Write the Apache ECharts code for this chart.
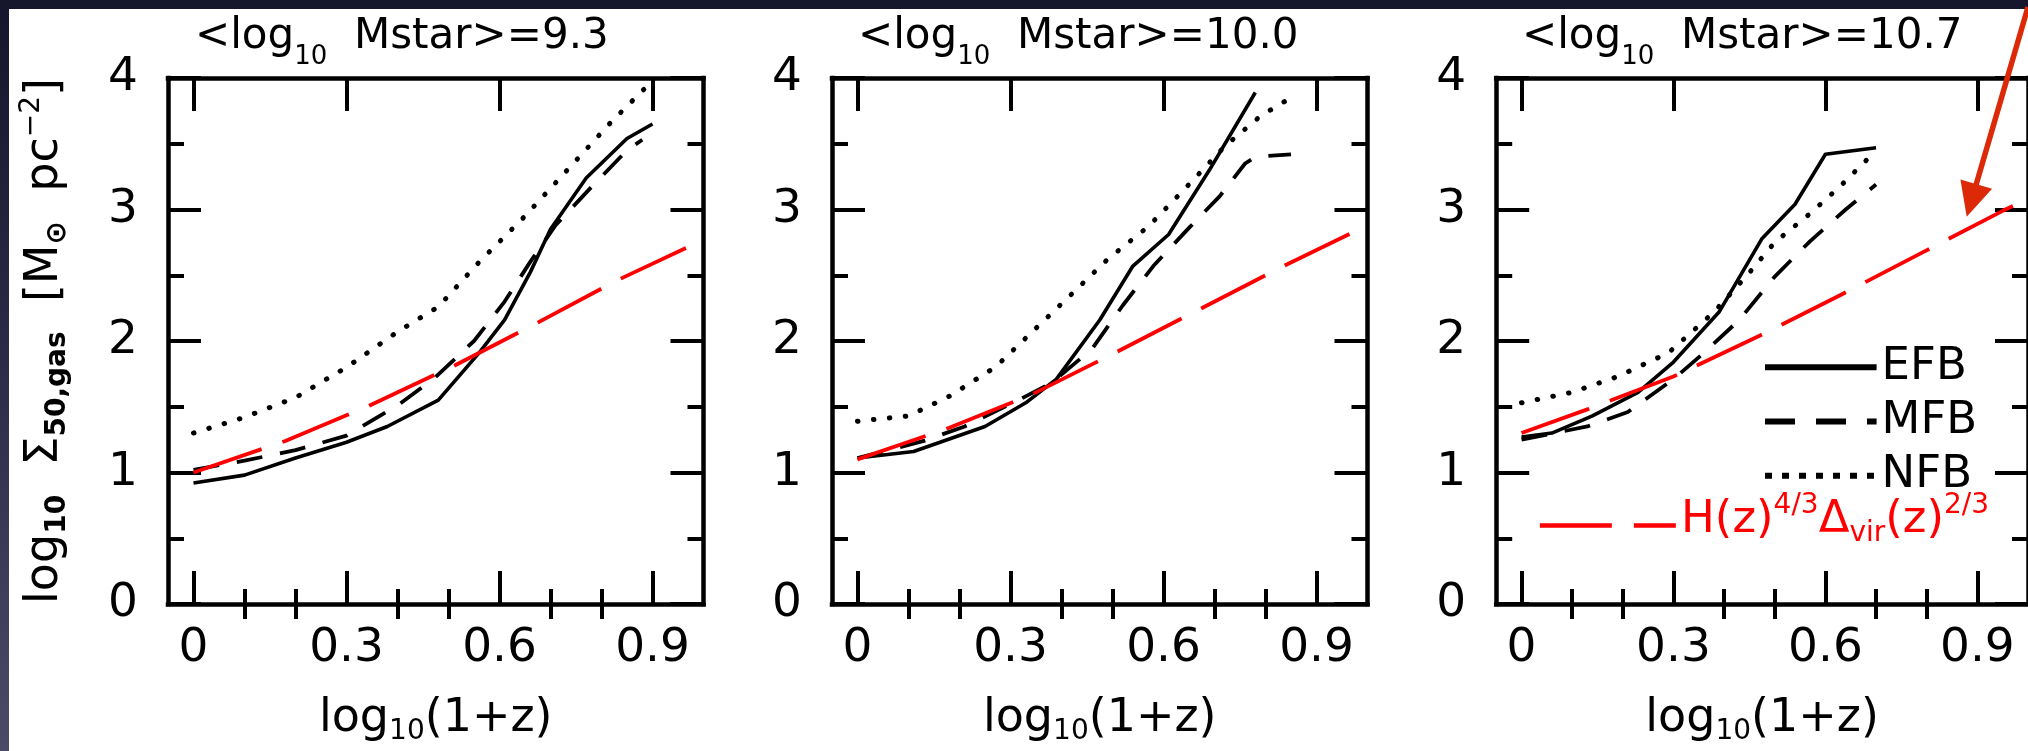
<!DOCTYPE html>
<html>
<head>
<meta charset="utf-8">
<script src="https://cdn.jsdelivr.net/npm/echarts@6/dist/echarts.min.js"></script>
<style>
html, body { margin:0; padding:0; width:2028px; height:751px; overflow:hidden;
  background: linear-gradient(to bottom, #15152b 0%, #2a2a46 45%, #4b4b67 100%); }
#paper { position:absolute; left:9px; top:9px; right:0; bottom:0; background:#ffffff; }
#chart { position:absolute; left:0; top:0; width:2028px; height:751px; }
</style>
</head>
<body>
<div id="paper"></div>
<div id="chart"></div>
<script>
// ---------------- data ----------------
const panelMass = ['9.3', '10.0', '10.7'];
const xMajorTicks = [0, 0.3, 0.6, 0.9];
const xMinorTicks = [0.1, 0.2, 0.4, 0.5, 0.7, 0.8];
const legendNames = ['EFB', 'MFB', 'NFB'];

// panel 1: <log10 Mstar> = 9.3
const efb93 = [[0,0.92],[0.1,0.98],[0.2,1.11],[0.3,1.23],[0.38,1.35],[0.48,1.55],[0.56,1.91],[0.61,2.16],[0.66,2.52],[0.70,2.85],[0.77,3.24],[0.85,3.54],[0.90,3.65]];
const mfb93 = [[0,1.02],[0.1,1.09],[0.2,1.17],[0.3,1.28],[0.4,1.51],[0.47,1.71],[0.55,2.0],[0.61,2.3],[0.66,2.6],[0.71,2.88],[0.78,3.17],[0.85,3.45],[0.88,3.53]];
const nfb93 = [[0,1.3],[0.1,1.42],[0.2,1.57],[0.3,1.8],[0.4,2.07],[0.48,2.26],[0.56,2.6],[0.65,2.95],[0.74,3.33],[0.82,3.67],[0.89,3.94]];
const hz93  = [[0,1.0],[0.18,1.24],[0.34,1.5],[0.51,1.81],[0.67,2.13],[0.83,2.46],[1.0,2.77]];

// panel 2: <log10 Mstar> = 10.0
const efb100 = [[0,1.11],[0.11,1.16],[0.25,1.35],[0.33,1.53],[0.39,1.71],[0.475,2.16],[0.54,2.57],[0.61,2.81],[0.69,3.3],[0.78,3.89]];
const mfb100 = [[0,1.11],[0.13,1.24],[0.21,1.35],[0.31,1.54],[0.38,1.68],[0.46,1.94],[0.52,2.27],[0.58,2.57],[0.65,2.86],[0.71,3.1],[0.76,3.35],[0.78,3.40],[0.85,3.42]];
const nfb100 = [[0,1.39],[0.1,1.43],[0.18,1.58],[0.27,1.8],[0.34,2.06],[0.41,2.32],[0.49,2.62],[0.57,2.87],[0.64,3.15],[0.72,3.48],[0.79,3.71],[0.85,3.85]];
const hz100  = [[0,1.1],[0.18,1.34],[0.34,1.59],[0.51,1.92],[0.67,2.24],[0.83,2.56],[1.0,2.88]];

// panel 3: <log10 Mstar> = 10.7
const efb107 = [[0,1.27],[0.06,1.3],[0.14,1.43],[0.23,1.61],[0.3,1.84],[0.39,2.22],[0.475,2.78],[0.54,3.04],[0.60,3.42],[0.70,3.47]];
const mfb107 = [[0,1.25],[0.13,1.35],[0.21,1.46],[0.3,1.71],[0.36,1.91],[0.43,2.16],[0.5,2.49],[0.57,2.76],[0.64,3.0],[0.70,3.19]];
const nfb107 = [[0,1.53],[0.1,1.61],[0.19,1.73],[0.29,1.91],[0.38,2.22],[0.45,2.52],[0.5,2.75],[0.57,2.97],[0.63,3.18],[0.69,3.41]];
const hz107  = [[0,1.3],[0.13,1.48],[0.3,1.73],[0.47,2.04],[0.63,2.35],[0.79,2.67],[0.95,2.99],[1.0,3.08]];

// annotation arrow in panel-3 data coordinates
const arrowTail = [1.0, 4.54];
const arrowTip  = [0.879, 2.945];

const panelData = [
  { efb: efb93,  mfb: mfb93,  nfb: nfb93,  hz: hz93 },
  { efb: efb100, mfb: mfb100, nfb: nfb100, hz: hz100 },
  { efb: efb107, mfb: mfb107, nfb: nfb107, hz: hz107 }
];

// ---------------- layout / style ----------------
const FONT = 'DejaVu Sans';
const K = '#000000';
const RED = '#ff0000';
const gridLefts = [168, 832, 1496.2];
const titleLefts = [195, 858, 1522];
const GRID_TOP = 78, GRID_W = 535.5, GRID_H = 527;

const lineAxis = { show: true, onZero: false, lineStyle: { color: K, width: 4.5, cap: 'square' } };
const tickLine = { color: K, width: 4 };

const chart = echarts.init(document.getElementById('chart'), null, { renderer: 'canvas' });

const grids = [], xAxes = [], yAxes = [], series = [], titles = [];

for (let g = 0; g < 3; g++) {
  grids.push({ left: gridLefts[g], top: GRID_TOP, width: GRID_W, height: GRID_H });

  const xb = { gridIndex: g, type: 'value', min: -0.05, max: 1.0, splitLine: { show: false } };
  // bottom major (main)
  xAxes.push(Object.assign({}, xb, {
    position: 'bottom', axisLine: lineAxis,
    axisTick: { show: true, inside: true, length: 33, customValues: xMajorTicks, lineStyle: tickLine },
    axisLabel: { show: true, customValues: xMajorTicks, margin: 21, color: K, fontSize: 47, lineHeight: 47,
                 fontFamily: FONT, formatter: v => String(v) },
    name: '{m|log}{s|10}{m|(1+z)}', nameLocation: 'middle', nameGap: 88,
    nameTextStyle: { color: K, fontFamily: FONT, fontSize: 46, rich: {
      m: { fontSize: 46, lineHeight: 54, color: K, fontFamily: FONT },
      s: { fontSize: 28, lineHeight: 28, verticalAlign: 'bottom', color: K, fontFamily: FONT } } }
  }));
  // bottom minor
  xAxes.push(Object.assign({}, xb, {
    position: 'bottom', axisLine: { show: false },
    axisTick: { show: true, inside: true, length: 15, customValues: xMinorTicks, lineStyle: tickLine },
    axisLabel: { show: false }
  }));
  // top major
  xAxes.push(Object.assign({}, xb, {
    position: 'top', axisLine: lineAxis,
    axisTick: { show: true, inside: true, length: 33, customValues: xMajorTicks, lineStyle: tickLine },
    axisLabel: { show: false }
  }));
  // top minor
  xAxes.push(Object.assign({}, xb, {
    position: 'top', axisLine: { show: false },
    axisTick: { show: true, inside: true, length: 15, customValues: xMinorTicks, lineStyle: tickLine },
    axisLabel: { show: false }
  }));

  const yb = { gridIndex: g, type: 'value', min: 0, max: 4, interval: 1,
    splitLine: { show: false }, minorSplitLine: { show: false },
    axisLine: lineAxis,
    axisTick: { show: true, inside: true, length: 33, lineStyle: tickLine },
    minorTick: { show: true, splitNumber: 2, length: 16, lineStyle: tickLine } };
  const yLeft = Object.assign({}, yb, {
    position: 'left',
    axisLabel: { show: true, margin: 30, color: K, fontSize: 47, fontFamily: FONT }
  });
  if (g === 0) {
    Object.assign(yLeft, {
      name: '{m|log}{s|10}{m|  Σ}{s|50,gas}{m|  [M}{s|⊙}{m|  pc}{p|−2}{m|]}',
      nameLocation: 'middle', nameGap: 96, nameRotate: 90,
      nameTextStyle: { color: K, fontFamily: FONT, fontSize: 46, rich: {
        m: { fontSize: 46, lineHeight: 54, color: K, fontFamily: FONT },
        s: { fontSize: 28, lineHeight: 28, verticalAlign: 'bottom', color: K, fontFamily: FONT, fontWeight: 'bold' },
        p: { fontSize: 28, lineHeight: 28, verticalAlign: 'top', color: K, fontFamily: FONT } } }
    });
  }
  yAxes.push(yLeft);
  yAxes.push(Object.assign({}, yb, { position: 'right', axisLabel: { show: false } }));

  titles.push({
    left: titleLefts[g], top: 4.5, padding: 0,
    text: '{m|<log}{s|10}{m|  Mstar>=' + panelMass[g] + '}',
    textStyle: { fontWeight: 'normal', fontSize: 42, fontFamily: FONT, color: K, rich: {
      m: { fontSize: 42, lineHeight: 66, color: K, fontFamily: FONT, fontWeight: 'normal' },
      s: { fontSize: 26, lineHeight: 26, verticalAlign: 'bottom', color: K, fontFamily: FONT, fontWeight: 'normal' } } }
  });

  const d = panelData[g];
  const common = { type: 'line', xAxisIndex: 4 * g, yAxisIndex: 2 * g, showSymbol: false, symbol: 'none',
                   silent: true, clip: true, emphasis: { disabled: true } };
  series.push(Object.assign({}, common, { name: 'EFB', data: d.efb, z: 3, itemStyle: { color: K },
    lineStyle: { color: K, width: 3.6, type: 'solid', join: 'round' } }));
  series.push(Object.assign({}, common, { name: 'MFB', data: d.mfb, z: 3, itemStyle: { color: K },
    lineStyle: { color: K, width: 3.8, type: [26, 18], join: 'round' } }));
  series.push(Object.assign({}, common, { name: 'NFB', data: d.nfb, z: 3, itemStyle: { color: K },
    lineStyle: { color: K, width: 5, type: [0.5, 15.5], cap: 'round', join: 'round' } }));
  series.push(Object.assign({}, common, { name: 'H', data: d.hz, z: 4, itemStyle: { color: RED },
    lineStyle: { color: RED, width: 3.8, type: [72, 22], join: 'round' } }));
}

// red legend label, drawn as rich text next to the legend line sample
titles.push({
  left: 1681, top: 492, padding: 0,
  text: '{m|H(z)}{p|4/3}{m|Δ}{s|vir}{m|(z)}{p|2/3}',
  textStyle: { fontWeight: 'normal', fontSize: 44, fontFamily: FONT, color: RED, rich: {
    m: { fontSize: 45, lineHeight: 56, color: RED, fontFamily: FONT, fontWeight: 'normal' },
    s: { fontSize: 28, lineHeight: 22, verticalAlign: 'bottom', color: RED, fontFamily: FONT, fontWeight: 'normal' },
    p: { fontSize: 28, lineHeight: 34, verticalAlign: 'top', color: RED, fontFamily: FONT, fontWeight: 'normal' } } }
});

const option = {
  animation: false,
  backgroundColor: 'transparent',
  textStyle: { fontFamily: FONT },
  title: titles,
  grid: grids,
  xAxis: xAxes,
  yAxis: yAxes,
  legend: [
    { data: [
        { name: legendNames[0] },
        { name: legendNames[1], lineStyle: { type: [30, 21], cap: 'butt', width: 6 } },
        { name: legendNames[2], lineStyle: { type: [7, 10], cap: 'butt', width: 6 } }
      ],
      orient: 'vertical', left: 1762, top: 344.7, padding: 0,
      itemWidth: 111.6, itemHeight: 14, itemGap: 9.3, selectedMode: false,
      textStyle: { fontSize: 45, lineHeight: 44, color: K, fontFamily: FONT },
      itemStyle: { opacity: 0 }, lineStyle: { width: 6 } },
    { data: ['H'], orient: 'vertical', left: 1537.6, top: 503.4, padding: 0,
      itemWidth: 136, itemHeight: 14, selectedMode: false,
      formatter: () => ' ',
      textStyle: { color: RED, fontFamily: FONT, fontSize: 44, lineHeight: 44 },
      itemStyle: { opacity: 0 }, lineStyle: { width: 4.5 } }
  ],
  series: series
};
chart.setOption(option);

// annotation arrow (positions from panel-3 data coordinates)
const finder = { xAxisIndex: 8, yAxisIndex: 4 };
const pA = chart.convertToPixel(finder, arrowTail);
const pB = chart.convertToPixel(finder, arrowTip);
const dx = pB[0] - pA[0], dy = pB[1] - pA[1];
const len = Math.sqrt(dx * dx + dy * dy);
const ux = dx / len, uy = dy / len;
const headLen = 34, headHalf = 16.5;
const bx = pB[0] - ux * headLen, by = pB[1] - uy * headLen;
const ARROW = '#dc2a08';
chart.setOption({
  graphic: [
    { type: 'line', z: 100, silent: true,
      shape: { x1: pA[0], y1: pA[1], x2: bx + ux * 4, y2: by + uy * 4 },
      style: { stroke: ARROW, lineWidth: 5.5 } },
    { type: 'polygon', z: 100, silent: true,
      shape: { points: [[pB[0], pB[1]], [bx - uy * headHalf, by + ux * headHalf], [bx + uy * headHalf, by - ux * headHalf]] },
      style: { fill: ARROW } }
  ]
});
</script>
</body>
</html>
